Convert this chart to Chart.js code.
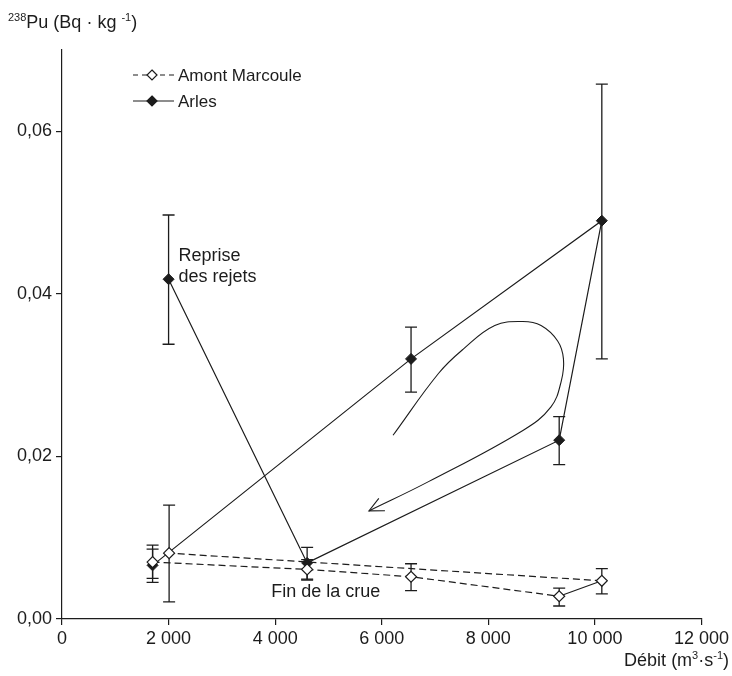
<!DOCTYPE html>
<html>
<head>
<meta charset="utf-8">
<script src="https://cdn.jsdelivr.net/npm/chart.js@4"></script>
<style>
  html, body { margin: 0; padding: 0; background: #fff; }
</style>
</head>
<body>
<canvas id="chart" width="732" height="676"></canvas>
<script>
// ---------- Data ----------
// Amont Marcoule (open diamonds), in the order the line is drawn
const amontFlow = [1700, 4600, 6550, 9330, 10130, 2010];
const amontPu   = [0.0070, 0.0061, 0.0052, 0.0028, 0.0047, 0.0081];
const amontLow  = [0.0050, 0.0049, 0.0035, 0.0016, 0.0031, 0.0021];
const amontHigh = [0.0091, 0.0073, 0.0068, 0.0038, 0.0062, 0.0140];

// Arles (filled diamonds), hysteresis loop order
const arlesFlow = [1700, 6550, 10130, 9330, 4600, 2000];
const arlesPu   = [0.0066, 0.0320, 0.0490, 0.0220, 0.0069, 0.0418];
const arlesLow  = [0.0045, 0.0279, 0.0320, 0.0190, 0.0048, 0.0338];
const arlesHigh = [0.0086, 0.0359, 0.0658, 0.0249, 0.0088, 0.0497];

// Hand-drawn loop arrow (data units)
const arrowFlow = [6212, 7064, 7530, 8121, 8649, 8990, 9301, 9410, 9370, 9176, 8649, 6878, 5760];
const arrowPu   = [0.0226, 0.0302, 0.0332, 0.0361, 0.0366, 0.0361, 0.0342, 0.0320, 0.0293, 0.0261, 0.0232, 0.0169, 0.0133];

const xTicks = [0, 2000, 4000, 6000, 8000, 10000, 12000];
const yTicks = [0, 0.02, 0.04, 0.06];

// ---------- Helpers ----------
const ink = '#1c1c1c';
const FONT = '"Liberation Sans", Arial, Helvetica, sans-serif';
const toPoints = (xs, ys) => xs.map((x, i) => ({ x, y: ys[i] }));
const fmtFlow = (v) => String(v).replace(/\B(?=(\d{3})+(?!\d))/g, ' ');
const fmtPu = (v) => Number(v).toFixed(2).replace('.', ',');

// text runs with superscripts: [[text, isSup], ...]
function runsWidth(ctx, runs, size) {
  return runs.reduce((w, [t, sup]) => {
    ctx.font = (sup ? Math.round(size * 0.62) : size) + 'px ' + FONT;
    return w + ctx.measureText(t).width;
  }, 0);
}
function drawRuns(ctx, runs, x, y, size) {
  runs.forEach(([t, sup]) => {
    ctx.font = (sup ? Math.round(size * 0.62) : size) + 'px ' + FONT;
    ctx.fillText(t, x, sup ? y - size * 0.38 : y);
    x += ctx.measureText(t).width;
  });
}

// ---------- Plugins ----------
const errorBars = {
  id: 'errorBars',
  beforeDatasetsDraw(chart) {
    const { ctx, scales: { x, y } } = chart;
    chart.data.datasets.forEach((ds) => {
      if (!ds.errLow) return;
      ctx.save();
      ctx.strokeStyle = ink;
      ctx.lineWidth = 1.3;
      ds.data.forEach((p, i) => {
        const px = x.getPixelForValue(p.x);
        const y1 = y.getPixelForValue(ds.errLow[i]);
        const y2 = y.getPixelForValue(ds.errHigh[i]);
        ctx.beginPath();
        ctx.moveTo(px, y1); ctx.lineTo(px, y2);
        ctx.moveTo(px - 6, y1); ctx.lineTo(px + 6, y1);
        ctx.moveTo(px - 6, y2); ctx.lineTo(px + 6, y2);
        ctx.stroke();
      });
      ctx.restore();
    });
  }
};

const arrowHead = {
  id: 'arrowHead',
  afterDatasetsDraw(chart) {
    const idx = chart.data.datasets.findIndex((d) => d.isArrow);
    const pts = chart.getDatasetMeta(idx).data;
    const tip = pts[pts.length - 1];
    const prev = pts[pts.length - 2];
    const bx = (tip.cp1x ?? prev.x) - tip.x, by = (tip.cp1y ?? prev.y) - tip.y;
    const a = Math.atan2(by, bx), len = 16, spread = 0.45;
    const ctx = chart.ctx;
    ctx.save();
    ctx.strokeStyle = ink;
    ctx.lineWidth = 1.1;
    ctx.beginPath();
    ctx.moveTo(tip.x + len * Math.cos(a - spread), tip.y + len * Math.sin(a - spread));
    ctx.lineTo(tip.x, tip.y);
    ctx.lineTo(tip.x + len * Math.cos(a + spread), tip.y + len * Math.sin(a + spread));
    ctx.stroke();
    ctx.restore();
  }
};

const notes = {
  id: 'notes',
  afterDraw(chart) {
    const { ctx, scales: { x, y } } = chart;
    ctx.save();
    ctx.fillStyle = ink;
    ctx.textBaseline = 'alphabetic';
    ctx.textAlign = 'left';

    // axis titles
    drawRuns(ctx, [['238', true], ['Pu (Bq · kg ', false], ['-1', true], [')', false]], 8, 28, 18);
    const xTitle = [['Débit (m', false], ['3', true], ['·s', false], ['-1', true], [')', false]];
    drawRuns(ctx, xTitle, 729 - runsWidth(ctx, xTitle, 18), 666, 18);

    // in-plot annotations
    ctx.font = '18px ' + FONT;
    ctx.fillText('Reprise', x.getPixelForValue(2186), y.getPixelForValue(0.0440));
    ctx.fillText('des rejets', x.getPixelForValue(2186), y.getPixelForValue(0.0414));
    ctx.fillText('Fin de la crue', x.getPixelForValue(3927), y.getPixelForValue(0.0027));

    // legend
    const rows = [
      { label: 'Amont Marcoule', dash: [5, 4], fill: '#fff', y: 75 },
      { label: 'Arles', dash: [], fill: ink, y: 101 }
    ];
    rows.forEach((r) => {
      ctx.strokeStyle = ink;
      ctx.lineWidth = 1.2;
      ctx.setLineDash(r.dash);
      ctx.beginPath();
      ctx.moveTo(133, r.y); ctx.lineTo(174, r.y);
      ctx.stroke();
      ctx.setLineDash([]);
      ctx.beginPath();
      ctx.moveTo(152, r.y - 5); ctx.lineTo(157, r.y); ctx.lineTo(152, r.y + 5); ctx.lineTo(147, r.y);
      ctx.closePath();
      ctx.fillStyle = r.fill;
      ctx.fill();
      ctx.stroke();
      ctx.fillStyle = ink;
      ctx.font = '17px ' + FONT;
      ctx.textBaseline = 'middle';
      ctx.fillText(r.label, 178, r.y + 1);
    });
    ctx.restore();
  }
};

// ---------- Chart ----------
const dash = [7, 4];

new Chart(document.getElementById('chart'), {
  type: 'scatter',
  data: {
    datasets: [
      {
        label: 'Amont Marcoule',
        data: toPoints(amontFlow, amontPu),
        errLow: amontLow,
        errHigh: amontHigh,
        showLine: true,
        borderColor: ink,
        borderWidth: 1.2,
        borderDash: dash,
        segment: { borderDash: (c) => (c.p0DataIndex === 3 ? [] : dash) },
        pointStyle: 'rectRot',
        pointRadius: 5.5,
        pointBackgroundColor: '#fff',
        pointBorderColor: ink,
        pointBorderWidth: 1.2
      },
      {
        label: 'Arles',
        data: toPoints(arlesFlow, arlesPu),
        errLow: arlesLow,
        errHigh: arlesHigh,
        showLine: true,
        borderColor: ink,
        borderWidth: 1.2,
        pointStyle: 'rectRot',
        pointRadius: 5.5,
        pointBackgroundColor: ink,
        pointBorderColor: ink,
        pointBorderWidth: 1
      },
      {
        label: 'arrow',
        isArrow: true,
        data: toPoints(arrowFlow, arrowPu),
        showLine: true,
        tension: 0.4,
        borderColor: ink,
        borderWidth: 1.1,
        pointRadius: 0
      }
    ]
  },
  options: {
    responsive: false,
    devicePixelRatio: 1,
    animation: false,
    layout: { padding: { top: 50, right: 27, left: 0, bottom: 0 } },
    plugins: { legend: { display: false }, tooltip: { enabled: false } },
    scales: {
      x: {
        type: 'linear',
        min: 0,
        max: 12000,
        afterBuildTicks: (s) => { s.ticks = xTicks.map((v) => ({ value: v })); },
        afterFit: (s) => { s.height = 57; },
        ticks: {
          color: ink,
          font: { family: FONT, size: 18 },
          padding: 3,
          maxRotation: 0,
          callback: (v) => fmtFlow(v)
        },
        grid: { drawOnChartArea: false, drawTicks: true, tickLength: 6, color: ink, lineWidth: 1.2 },
        border: { color: ink, width: 1.2 }
      },
      y: {
        min: 0,
        max: 0.07,
        afterBuildTicks: (s) => { s.ticks = yTicks.map((v) => ({ value: v })); },
        afterFit: (s) => { s.width = 62; },
        ticks: {
          color: ink,
          font: { family: FONT, size: 18 },
          padding: 4,
          callback: (v) => fmtPu(v)
        },
        grid: { drawOnChartArea: false, drawTicks: true, tickLength: 6, color: ink, lineWidth: 1.2 },
        border: { color: ink, width: 1.2 }
      }
    }
  },
  plugins: [errorBars, arrowHead, notes]
});
</script>
</body>
</html>
